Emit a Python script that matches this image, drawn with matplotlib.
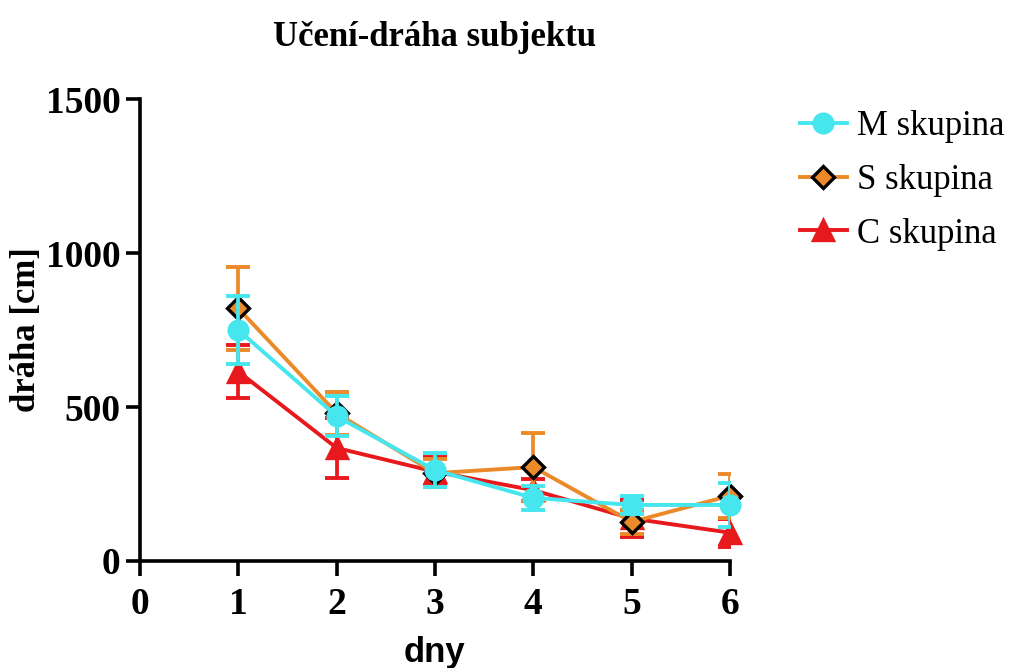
import matplotlib.pyplot as plt

# --- data ---
days = [1, 2, 3, 4, 5, 6]
m_mean = [750, 470, 295, 205, 182, 182]
m_err = [112, 65, 55, 40, 30, 72]
s_mean = [820, 480, 285, 305, 127, 212]
s_err = [135, 70, 45, 110, 40, 72]
c_mean = [615, 367, 290, 230, 138, 92]
c_err = [85, 97, 47, 36, 60, 45]

labels = ["M skupina", "S skupina", "C skupina"]
yticks = [0, 500, 1000, 1500]
xticks = [0, 1, 2, 3, 4, 5, 6]

serif = "Liberation Serif"

fig = plt.figure(figsize=(10.11, 6.68), dpi=100)
ax = fig.add_axes([140 / 1011, 1 - 561 / 668, 590 / 1011, 462 / 668])

series = [
    # mean, err, color, marker, size, edge, label, z
    (c_mean, c_err, "#e8191c", "^", 14, "#e8191c", labels[2], 2),
    (s_mean, s_err, "#ec8a2a", "D", 11, "black", labels[1], 3),
    (m_mean, m_err, "#45e6ee", "o", 13.5, "#45e6ee", labels[0], 4),
]

handles = {}
for mean, err, col, mk, ms, edge, lab, z in series:
    ax.errorbar(days, mean, yerr=err, fmt="none", ecolor=col, elinewidth=2.7,
                capsize=8.5, capthick=2.8, zorder=z)
    line, = ax.plot(days, mean, color=col, lw=2.8, marker=mk, markersize=ms,
                    markerfacecolor=col, markeredgecolor=edge, markeredgewidth=2.4,
                    zorder=z + 0.5, clip_on=False)
    handles[lab] = line

ax.set_xlim(0, 6)
ax.set_ylim(0, 1500)
ax.set_xticks(xticks)
ax.set_yticks(yticks)
for s in ["top", "right"]:
    ax.spines[s].set_visible(False)
for s in ["left", "bottom"]:
    ax.spines[s].set_linewidth(2.6)
ax.tick_params(axis="y", direction="out", length=10, width=2.6, pad=4)
ax.tick_params(axis="x", direction="out", length=11, width=2.6, pad=8)
for t in ax.get_xticklabels() + ax.get_yticklabels():
    t.set_fontfamily(serif)
    t.set_fontweight("bold")
    t.set_fontsize(27)

ax.set_ylabel("dráha [cm]", fontfamily=serif, fontweight="bold", fontsize=25, labelpad=2)
ax.set_xlabel("dny", fontfamily="Liberation Sans", fontweight="bold", fontsize=25, labelpad=10)
ax.set_title("Učení-dráha subjektu", fontfamily=serif, fontweight="bold", fontsize=25, pad=38)

fig.legend([handles[l] for l in labels], labels, loc="upper left",
           bbox_to_anchor=(786 / 1011, 1 - 96 / 668), frameon=False,
           prop={"family": serif, "size": 25}, handlelength=1.35,
           handletextpad=0.3, labelspacing=0.6, borderaxespad=0)

fig.savefig("out.png", dpi=100)
